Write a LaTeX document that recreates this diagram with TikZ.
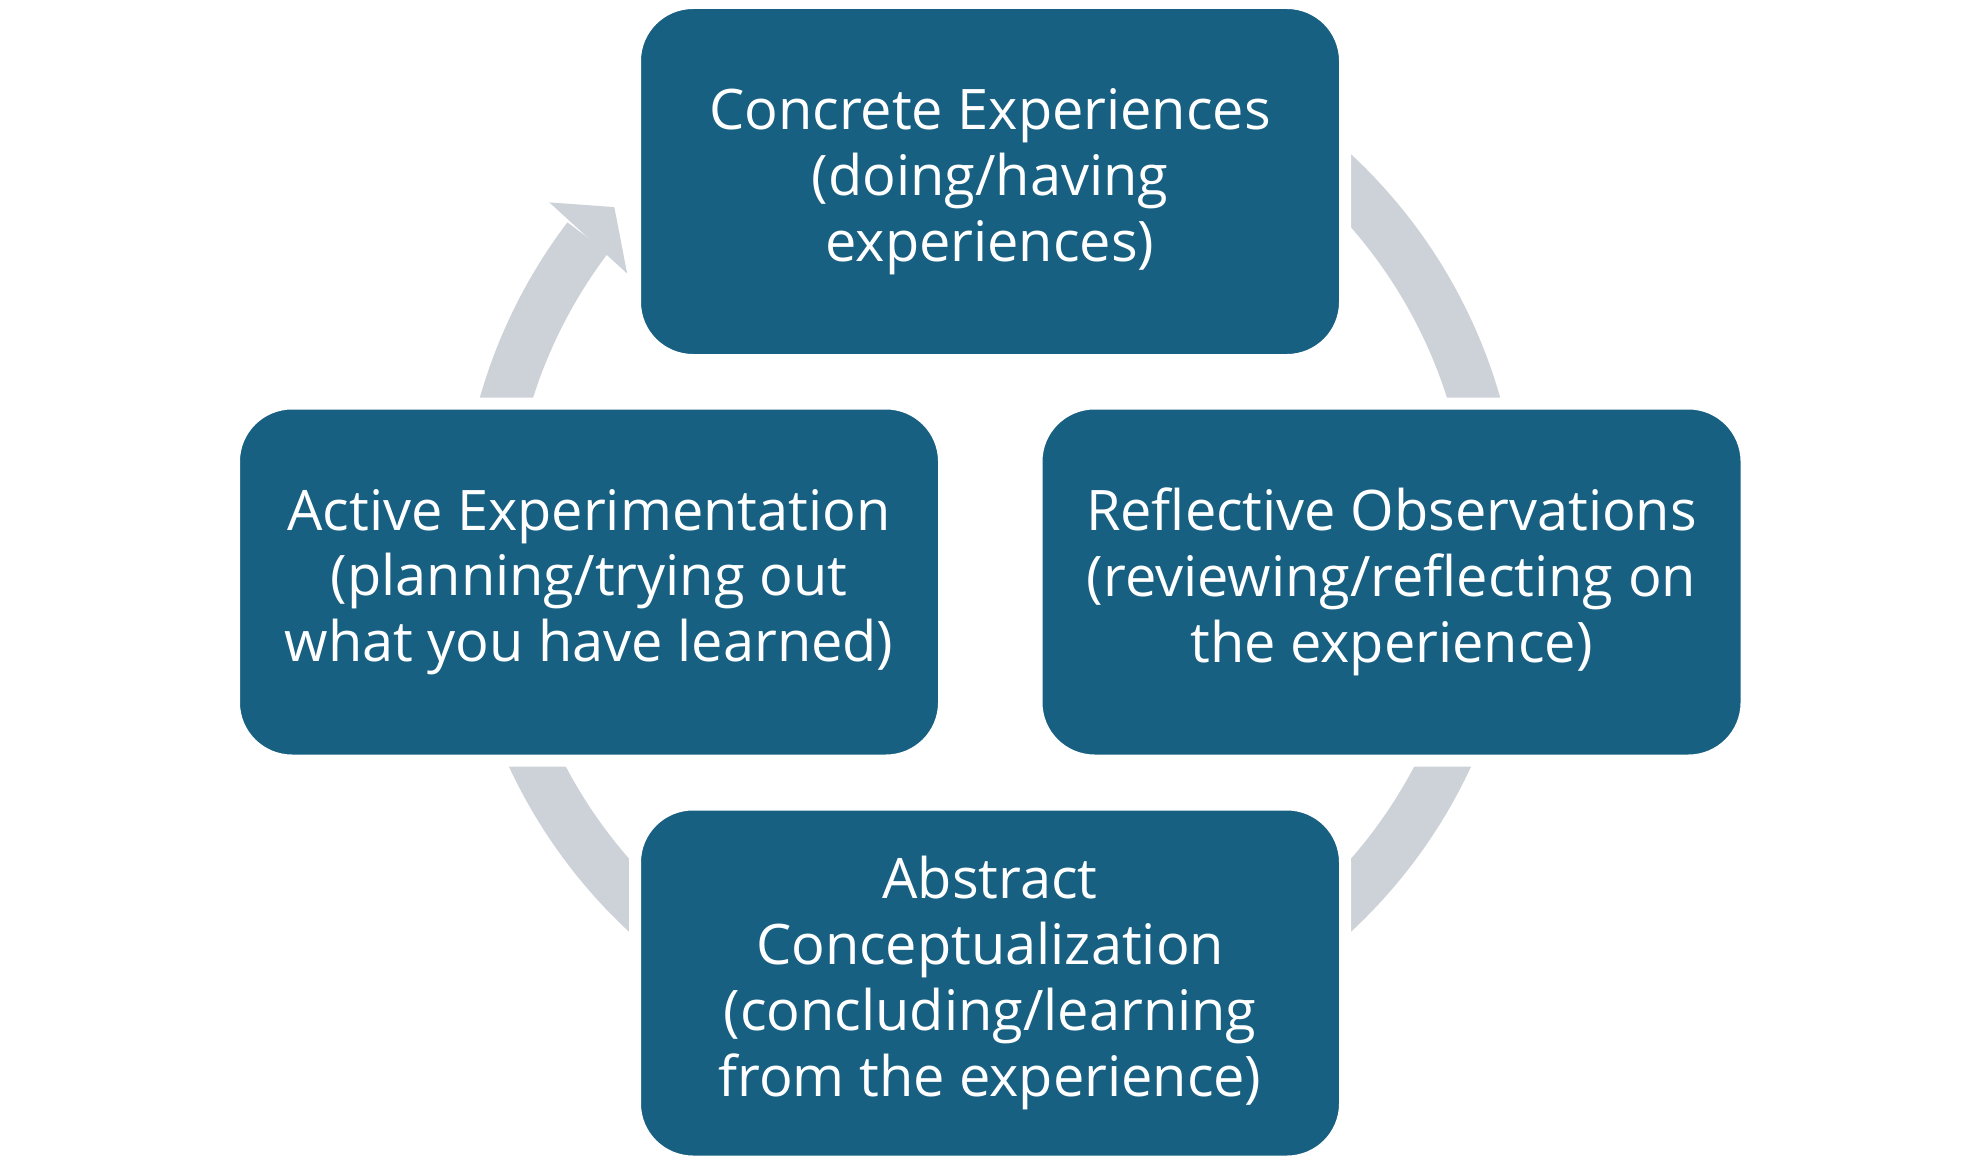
\documentclass[tikz,border=0pt]{standalone}
\usepackage{fontspec}
\setmainfont{Open Sans}
\usetikzlibrary{positioning}
\usetikzlibrary{calc}

\definecolor{boxblue}{RGB}{23,96,130}
\definecolor{ringgray}{RGB}{205,210,216}

\tikzset{
	stage/.style={rectangle, rounded corners=0.58cm, fill=boxblue, draw=white, line width=0.12cm,
		minimum width=7.10cm, minimum height=3.57cm, text=white, align=center,
		font=\fontsize{15.9}{18.7}\selectfont},
	ring/.style={draw=ringgray, line width=0.51cm}
}

\begin{document}
\begin{tikzpicture}
			% Fix the frame of the picture
			\useasboundingbox (0,0) rectangle (19.8,11.68);
			
			% Set the radius of the imaginary circle
			\def\radius{5.05cm}
			\coordinate (c) at (9.90,6.25);
			
			% Pieces of the ring, hidden under the boxes at both ends
			\foreach \a/\b in {55/5, -5/-55, 235/185}
				{\draw[ring] (c) ++(\a:\radius) arc (\a:\b:\radius);}
			\draw[ring] (c) ++(186:\radius) arc (186:142.8:\radius);
			\fill[ringgray] ($(c)+(142.3:5.57)$) -- ($(c)+(138.2:5.04)$) -- ($(c)+(143.4:4.52)$) -- cycle;
			
			% The four stages of the cycle
			\node[stage] (concrete) at (9.90,9.865) {Concrete Experiences\\(doing/having\\experiences)};
			\node[stage] (reflective) at (13.915,5.86) {Reflective Observations\\(reviewing/reflecting on\\the experience)};
			\node[stage] (abstract) at (9.90,1.85) {Abstract\\Conceptualization\\(concluding/learning\\from the experience)};
			\node[stage] (active) at (5.89,5.86) {Active Experimentation\\(planning/trying out\\what you have learned)};
\end{tikzpicture}
\end{document}
